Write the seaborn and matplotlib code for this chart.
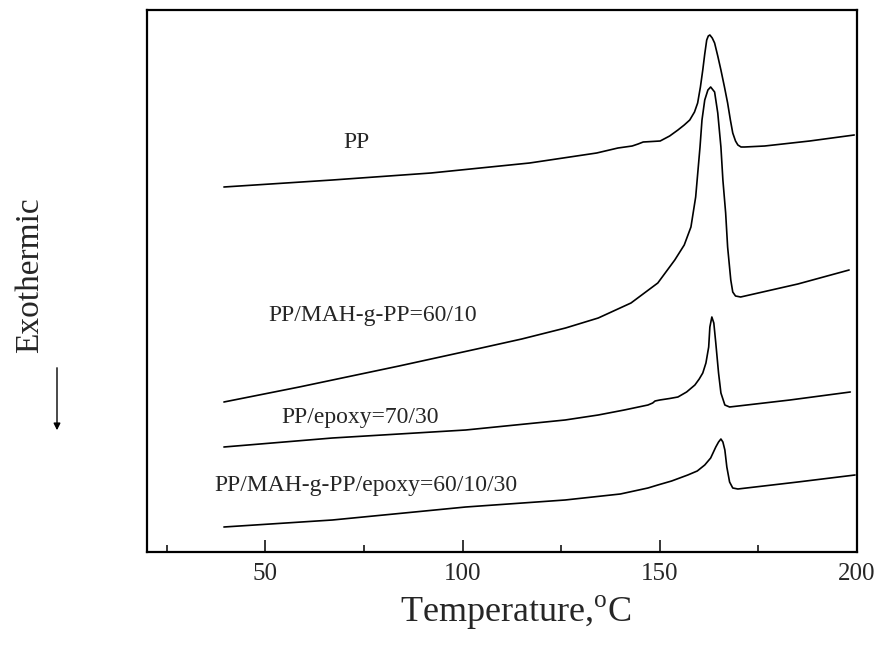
import numpy as np
import pandas as pd
import matplotlib
matplotlib.use("Agg")
import matplotlib.pyplot as plt
from matplotlib.ticker import MultipleLocator
import seaborn as sns

# DSC heating traces (temperature in deg C, heat flow in arbitrary offset units)
pp_T = [39.5, 67, 92, 117, 134, 139.4, 143, 144.5, 145.8, 148, 150.1, 152.5, 154.6, 156.2,
        157.6, 158.8, 159.6, 160.3, 160.9, 161.4, 161.9, 162.3, 162.7, 163.3, 163.9, 164.7,
        165.5, 166.4, 167.2, 167.9, 168.5, 169.2, 169.8, 170.6, 171.5, 176.6, 188, 199.3]
pp_H = [365, 372, 379, 389, 399, 404, 406, 408, 410, 410.5, 411, 416, 422, 427,
        432, 440, 449, 465, 482, 498, 512, 516, 517, 514, 509, 496,
        482, 465, 449, 432, 419, 411, 407, 405, 405, 406, 411, 417]

mah_T = [39.5, 58.6, 83.9, 103.6, 115, 126.1, 134.4, 142.7, 149.5, 153.8, 156.2, 157.9,
         159.1, 160.2, 160.7, 161.4, 162.2, 162.9, 163.9, 164.7, 165.5, 166.0, 166.7, 167.2,
         168.0, 168.5, 169.2, 170.5, 185, 198]
mah_H = [150, 165, 186, 203, 213, 224, 234, 249, 269, 292, 307, 325,
         355, 405, 432, 452, 462, 465, 460, 439, 405, 372, 339, 305,
         272, 260, 256, 255, 268, 282]

ep_T = [39.5, 67, 100.8, 126, 134.4, 141, 147, 148.2, 148.8, 150, 152.5, 154.6, 156.8,
        158.9, 160.0, 160.9, 161.7, 162.4, 162.7, 163.2, 163.7, 164.2, 164.9, 165.5, 166.5,
        167.7, 183, 198.3]
ep_H = [105, 114, 122, 132, 137, 142, 147, 149, 151, 152, 153.5, 155, 160,
        167, 173, 179, 189, 205, 225, 235, 229, 209, 179, 159, 147,
        145, 152, 160]

mix_T = [39.5, 67, 100.8, 126, 140, 147, 149.5, 153, 157.1, 159.5, 161.4, 162.9, 164.2,
         164.9, 165.5, 166.0, 166.5, 167.0, 167.7, 168.5, 169.8, 185, 199.5]
mix_H = [25, 32, 45, 52, 58, 64, 67, 71, 77, 81, 87, 94, 105,
         110, 113, 110, 102, 85, 70, 64, 63, 70, 77]

samples = ["PP", "PP/MAH-g-PP=60/10", "PP/epoxy=70/30", "PP/MAH-g-PP/epoxy=60/10/30"]
label_x = [69.7, 50.8, 54.1, 37.2]
label_y = [409, 237, 134, 66]

frames = []
for name, T, H in zip(samples, [pp_T, mah_T, ep_T, mix_T], [pp_H, mah_H, ep_H, mix_H]):
    frames.append(pd.DataFrame({"T": T, "H": H, "sample": name}))
df = pd.concat(frames, ignore_index=True)

sns.set_style("white")
plt.rcParams["font.family"] = ["Liberation Serif", "DejaVu Serif"]
plt.rcParams["mathtext.fontset"] = "custom"
plt.rcParams["mathtext.rm"] = "Liberation Serif"

fig = plt.figure(figsize=(8.86, 6.53), dpi=100)
ax = fig.add_axes([147 / 886, 1 - 552 / 653, 710 / 886, 542 / 653])

sns.lineplot(data=df, x="T", y="H", hue="sample", units="sample", estimator=None,
             palette=["black"] * 4, legend=False, linewidth=1.2, sort=True, ax=ax)

for name, lx, ly in zip(samples, label_x, label_y):
    ax.text(lx, ly, name, ha="left", va="center", fontsize=17)

ax.set_xlim(20, 200)
ax.set_ylim(0, 542)
ax.set_yticks([])
ax.xaxis.set_major_locator(MultipleLocator(50))
ax.xaxis.set_minor_locator(MultipleLocator(25))
ax.tick_params(axis="x", which="major", direction="in", length=9, width=1.3,
               labelsize=18, pad=8, bottom=True, top=False)
ax.tick_params(axis="x", which="minor", direction="in", length=5, width=1.3,
               bottom=True, top=False)
for s in ax.spines.values():
    s.set_linewidth(1.6)
    s.set_color("black")

ax.set_xlabel(r"Temperature,$^{\rm o}$C", fontsize=26)
ax.xaxis.set_label_coords(0.52, -0.112, transform=ax.transAxes)
ax.xaxis.label.set_verticalalignment("center")
ax.set_ylabel("")

fig.text(30 / 886, 1 - 275 / 653, "Exothermic", rotation=90, ha="center", va="center",
         fontsize=24)
fig.add_artist(matplotlib.patches.FancyArrowPatch(
    (57 / 886, 1 - 365 / 653), (57 / 886, 1 - 433 / 653), transform=fig.transFigure,
    arrowstyle="-|>", mutation_scale=10, linewidth=1.0, color="black"))

fig.savefig("out.png", dpi=100)
